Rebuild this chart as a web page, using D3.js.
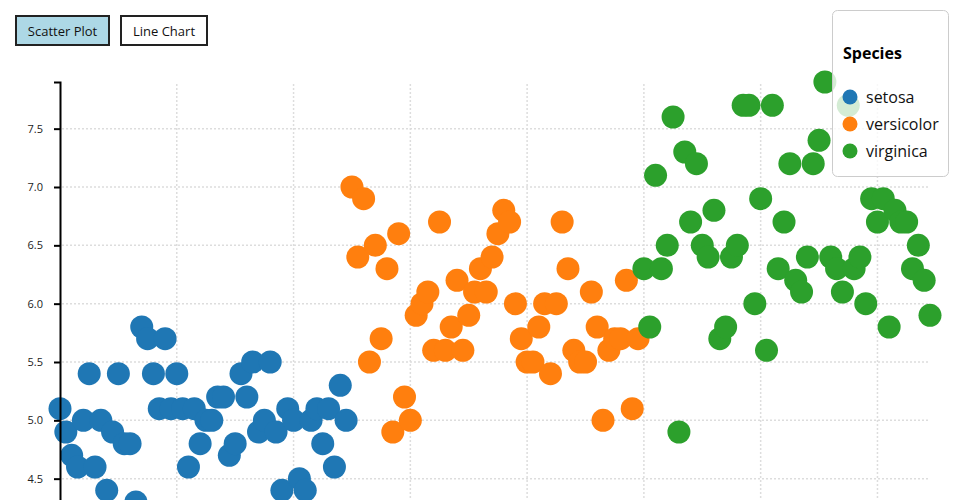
<!DOCTYPE html>
<html>
<head>
<meta charset="utf-8">
<script src="https://cdn.jsdelivr.net/npm/d3@7"></script>
<style>
  html, body { margin: 0; padding: 0; background: #fff; overflow: hidden; }
  body { width: 960px; height: 500px; position: relative; font-family: "Open Sans", sans-serif; }
  .btn { position: absolute; top: 15px; height: 31px; box-sizing: border-box; border: 2px solid #222;
         background: #fff; font-family: "Open Sans", sans-serif; font-size: 13px; color: #111;
         padding: 0; margin: 0; display: flex; align-items: center; justify-content: center; }
  .btn.active { background: #add8e6; }
  svg { position: absolute; left: 0; top: 0; }
</style>
</head>
<body>
<button class="btn active" style="left:15px;width:95px;">Scatter Plot</button>
<button class="btn" style="left:120px;width:88px;">Line Chart</button>
<svg id="chart" width="960" height="500"></svg>
<script>
const species = ["setosa", "versicolor", "virginica"];
const colors = ["#1f77b4", "#ff7f0e", "#2ca02c"];
const setosa = [5.1,4.9,4.7,4.6,5.0,5.4,4.6,5.0,4.4,4.9,5.4,4.8,4.8,4.3,5.8,5.7,5.4,5.1,5.7,5.1,5.4,5.1,4.6,5.1,4.8,5.0,5.0,5.2,5.2,4.7,4.8,5.4,5.2,5.5,4.9,5.0,5.5,4.9,4.4,5.1,5.0,4.5,4.4,5.0,5.1,4.8,5.1,4.6,5.3,5.0];
const versicolor = [7.0,6.4,6.9,5.5,6.5,5.7,6.3,4.9,6.6,5.2,5.0,5.9,6.0,6.1,5.6,6.7,5.6,5.8,6.2,5.6,5.9,6.1,6.3,6.1,6.4,6.6,6.8,6.7,6.0,5.7,5.5,5.5,5.8,6.0,5.4,6.0,6.7,6.3,5.6,5.5,5.5,6.1,5.8,5.0,5.6,5.7,5.7,6.2,5.1,5.7];
const virginica = [6.3,5.8,7.1,6.3,6.5,7.6,4.9,7.3,6.7,7.2,6.5,6.4,6.8,5.7,5.8,6.4,6.5,7.7,7.7,6.0,6.9,5.6,7.7,6.3,6.7,7.2,6.2,6.1,6.4,7.2,7.4,7.9,6.4,6.3,6.1,7.7,6.3,6.4,6.0,6.9,6.7,6.9,5.8,6.8,6.7,6.7,6.3,6.5,6.2,5.9];
const yTicks = [4.5, 5.0, 5.5, 6.0, 6.5, 7.0, 7.5];
const xTicks = [0, 20, 40, 60, 80, 100, 120, 140];
const legendTitle = "Species";

const seriesValues = [setosa, versicolor, virginica];
const data = [];
seriesValues.forEach((vals, s) => vals.forEach(v => data.push({ i: data.length, v: v, s: s })));

const svg = d3.select("#chart");
const x = d3.scaleLinear().domain([0, data.length - 1]).range([60, 930]);
const y = d3.scaleLinear().domain([4.3, 7.9]).range([502, 82]);
const color = d3.scaleOrdinal().domain(d3.range(species.length)).range(colors);

// grid
const grid = svg.append("g");
grid.selectAll(".hg").data(yTicks).join("line")
  .attr("x1", 62).attr("x2", 930)
  .attr("y1", d => y(d)).attr("y2", d => y(d))
  .attr("stroke", "#ddd").attr("stroke-width", 1.5).attr("stroke-dasharray", "2,2");
grid.selectAll(".vg").data(xTicks.filter(d => d > 0)).join("line")
  .attr("x1", d => x(d)).attr("x2", d => x(d))
  .attr("y1", 84).attr("y2", 502)
  .attr("stroke", "#ddd").attr("stroke-width", 1.5).attr("stroke-dasharray", "2,2");

// points
svg.append("g").selectAll("circle").data(data).join("circle")
  .attr("cx", d => x(d.i)).attr("cy", d => y(d.v)).attr("r", 11.5)
  .attr("fill", d => color(d.s));

// y axis
const yAxis = svg.append("g").attr("transform", "translate(60,0)")
  .call(d3.axisLeft(y).tickValues(yTicks).tickFormat(d3.format(".1f")).tickSize(6).tickPadding(11));
yAxis.select(".domain").attr("stroke", "#000").attr("stroke-width", 2);
yAxis.selectAll(".tick line").attr("stroke", "#000").attr("stroke-width", 2);
yAxis.selectAll(".tick text").attr("font-family", "Open Sans, sans-serif").attr("font-size", 11).attr("fill", "#222");

// legend
const lg = svg.append("g");
lg.append("rect").attr("x", 832.5).attr("y", 10.5).attr("width", 116).attr("height", 166)
  .attr("rx", 5).attr("fill", "rgba(255,255,255,0.8)").attr("stroke", "#ccc");
lg.append("text").attr("x", 843).attr("y", 59).text(legendTitle)
  .attr("font-family", "Open Sans, sans-serif").attr("font-weight", "bold").attr("font-size", 16).attr("fill", "#000");
const items = lg.selectAll(".item").data(species).join("g")
  .attr("transform", (d, i) => `translate(850,${97 + i * 27})`);
items.append("circle").attr("r", 7.5).attr("fill", (d, i) => color(i));
items.append("text").attr("x", 16).attr("y", 5.5).text(d => d)
  .attr("font-family", "Open Sans, sans-serif").attr("font-size", 16).attr("fill", "#111");
</script>
</body>
</html>
